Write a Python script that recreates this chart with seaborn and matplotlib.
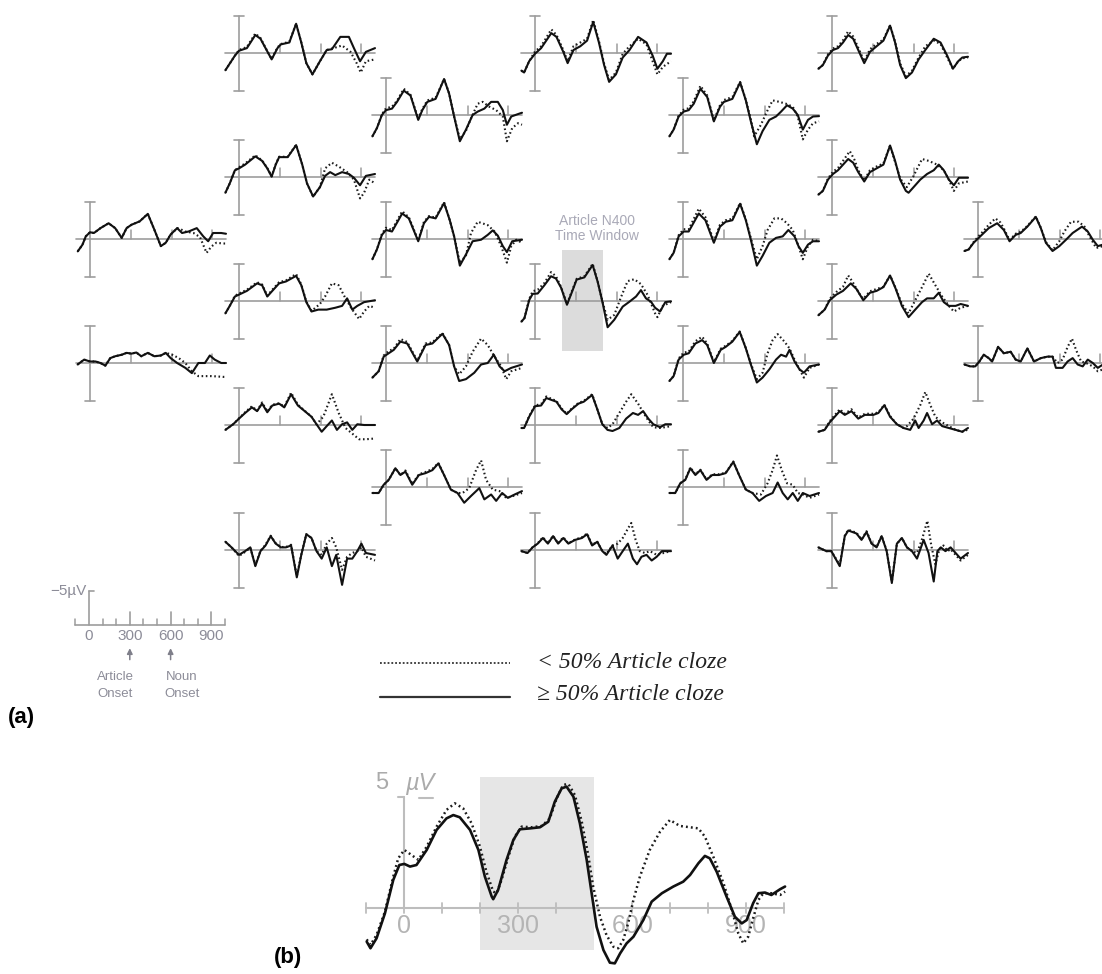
import matplotlib
matplotlib.use("Agg")
import matplotlib.pyplot as plt
import seaborn as sns
import pandas as pd

# ---------------------------------------------------------------------------
# ERP waveforms: lists of (time in ms, amplitude in µV) vertices.
# HIGH = >= 50% article cloze (solid), LOW = < 50% article cloze (dotted)
# ---------------------------------------------------------------------------
C1R1_HIGH = [(-90, 1.65), (-55, 0.75), (-31, -0.35), (0, -0.9), (29, -0.8), (77, -1.45), (137, -2.1), (185, -1.45),
             (233, -0.15), (269, -1.45), (305, -1.9), (365, -2.35), (425, -3.35), (473, -1.25), (521, 0.95), (557, 0.5),
             (593, -0.6), (641, -1.45), (677, -0.8), (725, -1.0), (785, -1.45), (833, -0.35), (869, 0.3), (905, -0.8),
             (965, -0.8), (1000, -0.7)]
C1R1_LOW = [(-90, 1.65), (-55, 0.75), (-31, -0.35), (0, -0.9), (29, -0.8), (77, -1.45), (137, -2.1), (185, -1.45),
            (233, -0.15), (269, -1.45), (305, -1.9), (365, -2.35), (425, -3.35), (473, -1.25), (521, 0.95), (557, 0.5),
            (593, -0.6), (641, -1.45), (660, -1.35), (701, -1.0), (761, -0.8), (809, -0.25), (857, 1.85), (893, 1.0),
            (929, 0.5), (977, 0.6), (1000, 0.6)]

C1R2_HIGH = [(-91, 0.2), (-43, -0.45), (0, -0.2), (41, -0.2), (77, 0.0), (113, 0.35), (149, -0.65), (185, -0.9),
             (233, -1.1), (269, -1.35), (305, -1.25), (341, -1.4), (377, -0.9), (425, -1.35), (473, -0.9), (521, -1.0),
             (557, -1.35), (593, -0.65), (641, 0.0), (701, 0.65), (749, 1.35), (797, 0.0), (845, 0.0), (881, -1.0),
             (917, -0.45), (965, 0.0), (1000, 0.0)]
C1R2_LOW = [(-91, 0.2), (-43, -0.45), (0, -0.2), (41, -0.2), (77, 0.0), (113, 0.35), (149, -0.65), (185, -0.9),
            (233, -1.1), (269, -1.35), (305, -1.25), (341, -1.4), (377, -0.9), (425, -1.35), (473, -0.9), (521, -1.0),
            (557, -1.35), (605, -1.1), (653, -0.65), (701, 0.0), (749, 1.1), (797, 1.75), (845, 1.75), (893, 1.75),
            (941, 1.8), (977, 1.85), (1000, 1.85)]

C2R1_HIGH = [(-100, 2.3), (-30, 0.35), (0, -0.3), (58, -0.65), (120, -2.4), (158, -1.9), (195, -0.65), (240, 0.85),
             (283, -0.65), (308, -1.15), (370, -1.4), (420, -3.9), (458, -1.4), (495, 1.35), (540, 2.85), (595, 1.1),
             (645, -0.4), (683, -0.5), (745, -2.15), (808, -2.15), (845, -0.65), (890, 1.1), (933, -0.15),
             (1000, -0.65)]
C2R1_LOW = [(-100, 2.3), (-30, 0.35), (0, -0.4), (58, -0.8), (120, -2.6), (158, -2.0), (195, -0.7), (240, 0.8),
            (283, -0.75), (308, -1.2), (370, -1.5), (420, -3.9), (458, -1.4), (495, 1.35), (540, 2.85), (595, 1.1),
            (645, -0.4), (695, -0.65), (758, -1.0), (820, -0.15), (865, 1.35), (895, 2.6), (933, 1.1), (1000, 0.85)]

C2R2_HIGH = [(-100, 2.1), (-68, 0.85), (-30, -0.9), (0, -1.15), (45, -1.65), (120, -2.75), (170, -2.15), (208, -1.15),
             (240, -0.05), (270, -1.65), (295, -2.65), (358, -2.65), (420, -4.25), (465, -1.65), (500, 0.85),
             (545, 2.6), (595, 1.35), (633, -0.15), (670, -0.65), (708, -0.25), (758, -0.65), (808, -0.4), (845, 0.1),
             (890, 1.1), (933, -0.15), (1000, -0.4)]
C2R2_LOW = [(-100, 2.1), (-68, 0.85), (-30, -0.9), (0, -1.3), (45, -1.8), (120, -2.9), (170, -2.2), (208, -1.2),
            (240, -0.1), (270, -1.7), (295, -2.7), (358, -2.7), (420, -4.3), (465, -1.65), (500, 0.85), (545, 2.6),
            (595, 1.35), (633, -1.15), (683, -1.9), (733, -1.4), (795, -0.65), (845, 0.35), (890, 2.85), (920, 2.1),
            (958, 0.35), (1000, 0.85)]

C2R3_HIGH = [(-100, 1.65), (-68, 0.65), (-30, -0.6), (0, -0.85), (58, -1.35), (133, -2.35), (170, -2.1), (208, -0.6),
             (245, -1.35), (295, -2.35), (345, -2.6), (420, -3.35), (458, -2.1), (495, 0.15), (533, 1.4), (583, 1.15),
             (645, 1.15), (708, 0.9), (758, 0.65), (795, -0.35), (833, 1.15), (870, 0.65), (920, 0.15), (1000, -0.1)]
C2R3_LOW = [(-100, 1.65), (-68, 0.65), (-30, -0.7), (0, -1.0), (58, -1.5), (133, -2.5), (170, -2.2), (208, -0.7),
            (245, -1.5), (295, -2.5), (345, -2.75), (420, -3.6), (458, -2.2), (495, 0.1), (533, 1.3), (545, 1.15),
            (595, 0.4), (633, -0.6), (683, -2.35), (733, -2.1), (783, -0.35), (833, 1.15), (883, 2.4), (920, 1.4),
            (958, 0.65), (1000, 0.9)]

C2R4_HIGH = [(-100, 0.65), (-43, -0.1), (0, -0.85), (45, -1.6), (95, -2.35), (133, -1.85), (170, -2.85), (208, -1.7),
             (245, -2.6), (295, -2.85), (333, -2.35), (383, -4.1), (433, -2.6), (483, -1.85), (533, -1.1), (570, -0.1),
             (608, 0.9), (645, 0.15), (683, -0.6), (720, 0.65), (758, -0.1), (795, -0.35), (833, 0.65), (870, -0.1),
             (920, 0.0), (1000, 0.0)]
C2R4_LOW = [(-100, 0.65), (-43, -0.1), (0, -0.9), (45, -1.7), (95, -2.5), (133, -1.9), (170, -3.0), (208, -1.8),
            (245, -2.7), (295, -2.9), (333, -2.45), (383, -4.3), (433, -2.7), (483, -1.9), (533, -1.1), (570, -0.1),
            (620, -1.1), (683, -4.1), (733, -1.6), (783, 0.4), (833, 1.15), (883, 1.9), (933, 1.9), (1000, 1.8)]

C2R5_HIGH = [(-100, -1.1), (-55, -0.35), (0, 0.65), (45, 0.15), (83, -0.35), (120, 2.15), (158, 0.15), (195, -0.6),
             (233, -1.85), (270, -0.85), (308, -0.35), (345, -0.35), (383, -0.6), (425, 3.65), (458, 0.65),
             (495, -2.1), (533, -1.6), (570, 0.15), (608, 1.15), (645, -0.35), (683, 2.15), (715, 0.65), (758, 4.65),
             (795, 1.15), (833, 1.15), (870, 0.15), (900, -0.85), (933, 0.4), (1000, 0.65)]
C2R5_LOW = [(-100, -1.1), (-55, -0.35), (0, 0.8), (45, 0.25), (83, -0.3), (120, 2.0), (158, 0.1), (195, -0.7),
            (233, -1.9), (270, -0.9), (308, -0.4), (345, -0.4), (383, -0.7), (425, 3.5), (458, 0.6), (495, -2.1),
            (533, -1.6), (570, 0.15), (608, 0.65), (645, -0.85), (683, -1.6), (715, -0.35), (758, 2.65), (795, 0.9),
            (833, 0.4), (870, 0.15), (900, -0.35), (933, 0.9), (1000, 1.4)]

C3R1_HIGH = [(-100, 2.85), (-67, 1.75), (-30, 0.0), (0, -0.65), (44, -0.85), (81, -1.75), (131, -3.25), (180, -2.6),
             (237, 0.65), (267, -0.65), (304, -1.75), (365, -2.15), (427, -4.8), (464, -2.85), (501, 0.2), (543, 3.5),
             (588, 1.95), (637, 0.0), (674, -0.45), (723, -0.85), (773, -1.75), (822, -1.75), (859, -0.65),
             (889, 1.3), (921, 0.2), (983, -0.2), (1000, -0.3)]
C3R1_LOW = [(-100, 2.85), (-67, 1.75), (-30, -0.1), (0, -0.9), (44, -1.1), (81, -1.9), (131, -3.5), (180, -2.7),
            (237, 0.5), (267, -0.8), (304, -1.95), (365, -2.3), (427, -4.8), (464, -2.9), (501, 0.2), (543, 3.2),
            (588, 2.1), (625, 0.45), (674, -1.5), (711, -1.75), (760, -1.1), (810, -0.65), (859, 0.2), (889, 3.5),
            (928, 1.75), (970, 1.1), (1000, 1.3)]

C3R2_HIGH = [(-100, 2.7), (-67, 1.4), (-30, -0.55), (0, -1.2), (44, -1.0), (119, -3.4), (168, -2.75), (237, 0.3),
             (279, -2.1), (316, -2.95), (365, -2.75), (427, -4.8), (469, -2.5), (501, -0.35), (543, 3.55),
             (588, 2.05), (637, 0.3), (699, 0.1), (748, -0.55), (785, -1.15), (822, -0.45), (859, 0.95), (889, 1.75),
             (928, 0.3), (1000, 0.1)]
C3R2_LOW = [(-100, 2.7), (-67, 1.4), (-30, -0.7), (0, -1.5), (44, -1.2), (119, -3.7), (168, -2.9), (237, 0.2),
            (279, -2.3), (316, -3.05), (365, -2.85), (427, -4.9), (469, -2.5), (501, -0.35), (543, 3.2), (588, 2.2),
            (625, -0.8), (674, -2.3), (748, -1.85), (798, -1.0), (847, 0.95), (889, 3.15), (921, 0.95), (958, 0.1),
            (1000, 0.5)]

C3R3_HIGH = [(-100, 1.95), (-54, 1.1), (-17, -0.85), (20, -1.3), (57, -1.75), (106, -2.85), (156, -2.6), (230, -0.2),
             (291, -2.4), (341, -2.6), (415, -3.9), (464, -2.4), (501, 0.45), (538, 2.4), (588, 2.15), (649, 1.3),
             (699, 0.2), (748, 0.0), (793, -1.1), (835, 0.45), (872, 1.1), (921, 0.65), (1000, 0.2)]
C3R3_LOW = [(-100, 1.95), (-54, 1.1), (-17, -1.0), (20, -1.6), (57, -1.9), (106, -3.2), (156, -2.8), (230, -0.3),
            (291, -2.6), (341, -2.75), (415, -4.0), (464, -2.4), (501, 0.45), (538, 1.5), (588, 0.45), (637, -1.5),
            (699, -3.25), (748, -2.4), (798, -0.85), (847, 0.45), (884, 2.15), (921, 1.1), (1000, 0.65)]

C3R4_HIGH = [(-100, 0.8), (-54, 0.8), (-17, -0.3), (20, -0.95), (69, -2.5), (106, -1.6), (143, -2.05), (193, -0.3),
             (242, -1.6), (291, -1.85), (341, -2.25), (385, -3.15), (427, -1.6), (477, 0.35), (526, 0.8), (575, 2.1),
             (625, 1.2), (686, 0.15), (723, 1.65), (773, 1.0), (810, 1.85), (854, 0.8), (896, 1.45), (946, 1.0),
             (1000, 0.55)]
C3R4_LOW = [(-100, 0.8), (-54, 0.8), (-17, -0.3), (20, -0.95), (69, -2.5), (106, -1.6), (143, -2.2), (193, -0.4),
            (242, -1.7), (291, -2.0), (341, -2.4), (385, -3.2), (427, -1.6), (477, 0.35), (526, 0.8), (563, 0.8),
            (612, 0.15), (662, -2.25), (699, -3.55), (736, -0.95), (785, 0.35), (835, 0.55), (884, 1.45),
            (933, 1.2), (1000, 0.8)]

C4R1_HIGH = [(-100, 2.35), (-80, 2.6), (-43, 1.1), (0, 0.1), (45, -0.65), (120, -2.65), (158, -2.15), (208, -0.15),
             (240, 1.35), (283, -0.4), (333, -0.9), (383, -1.65), (428, -4.15), (470, -1.4), (508, 1.6), (545, 3.85),
             (595, 2.85), (645, 0.6), (695, -0.4), (758, -2.15), (820, -1.4), (865, 0.35), (900, 2.1), (940, 1.1),
             (970, 0.1), (1000, 0.1)]
C4R1_LOW = [(-100, 2.35), (-80, 2.6), (-43, 1.1), (0, -0.2), (45, -0.9), (120, -3.15), (158, -2.4), (208, -0.4),
            (240, 1.1), (283, -0.9), (333, -1.4), (383, -1.9), (428, -4.4), (470, -1.6), (508, 1.4), (545, 3.6),
            (595, 2.6), (645, 0.1), (695, -0.9), (758, -1.9), (820, -1.15), (865, 1.1), (900, 2.85), (940, 1.85),
            (1000, 1.1)]

C4R2_HIGH = [(-100, 2.75), (-78, 2.3), (-42, -0.15), (-17, -0.95), (20, -1.0), (69, -2.1), (118, -3.3), (154, -3.0),
             (191, -1.8), (235, 0.5), (277, -1.45), (306, -2.85), (363, -3.15), (424, -4.8), (461, -2.55), (498, 0.3),
             (534, 3.5), (583, 2.5), (645, 0.75), (694, 0.1), (743, -0.6), (779, -1.45), (816, -0.35), (853, 0.1),
             (883, 0.9), (920, 1.4), (958, 0.15), (1000, 0.05)]
C4R2_LOW = [(-100, 2.75), (-78, 2.3), (-42, -0.3), (-17, -1.3), (20, -1.5), (69, -2.4), (118, -3.85), (154, -3.3),
            (191, -1.9), (235, 0.4), (277, -1.6), (306, -2.95), (363, -3.3), (424, -4.95), (461, -2.6), (498, 0.2),
            (534, 2.5), (583, 1.85), (632, -0.5), (681, -2.65), (730, -2.9), (779, -2.25), (828, -0.8), (883, 1.65),
            (900, 2.15), (940, 0.65), (1000, 0.15)]

C4R3_HIGH = [(-100, 0.4), (-80, 0.4), (-43, -1.1), (0, -2.5), (45, -2.6), (83, -3.6), (120, -3.35), (158, -3.1),
             (195, -2.1), (233, -1.45), (270, -2.1), (320, -2.85), (358, -3.1), (420, -4.0), (458, -2.1), (495, -0.1),
             (533, 0.65), (570, 0.8), (620, 0.4), (670, -0.85), (720, -1.6), (758, -1.35), (795, -1.85), (833, -0.85),
             (870, -0.1), (920, 0.3), (958, -0.1), (1000, -0.1)]
C4R3_LOW = [(-100, 0.4), (-80, 0.4), (-43, -1.2), (0, -2.6), (45, -2.8), (83, -3.8), (120, -3.5), (158, -3.2),
            (195, -2.2), (233, -1.5), (270, -2.2), (320, -2.95), (358, -3.2), (420, -4.1), (458, -2.1), (495, -0.1),
            (533, 0.4), (570, -0.1), (620, -1.6), (670, -3.1), (708, -4.1), (758, -2.85), (795, -1.7), (833, -0.6),
            (870, 0.3), (920, 0.4), (1000, 0.15)]

C4R4_HIGH = [(-100, 0.15), (-55, 0.4), (-18, -0.35), (20, -0.85), (58, -1.6), (95, -0.85), (133, -1.85), (170, -0.85),
             (208, -1.6), (245, -0.85), (295, -1.35), (345, -1.6), (383, -2.1), (420, -0.6), (458, -1.1), (495, 0.15),
             (525, 0.65), (570, -0.6), (608, 1.15), (645, 0.15), (683, -0.85), (720, 1.15), (750, 1.9), (783, 0.9),
             (820, 0.65), (858, 1.4), (895, 0.9), (933, 0.15), (1000, 0.15)]
C4R4_LOW = [(-100, 0.15), (-55, 0.4), (-18, -0.35), (20, -0.9), (58, -1.7), (95, -0.9), (133, -1.9), (170, -0.9),
            (208, -1.7), (245, -0.9), (295, -1.4), (345, -1.7), (383, -2.2), (420, -0.7), (458, -1.1), (495, 0.15),
            (525, 0.5), (570, -0.6), (608, -0.85), (645, -1.6), (683, -2.85), (708, -3.6), (740, -1.35), (770, 0.15),
            (808, 0.4), (845, 0.15), (895, 0.65), (945, 0.4), (1000, 0.15)]

C5R1_HIGH = [(-100, 2.85), (-69, 1.95), (-32, 0.2), (5, -0.45), (42, -0.65), (79, -1.5), (128, -3.5), (178, -2.4),
             (227, 0.85), (272, -1.1), (301, -1.75), (363, -2.15), (420, -4.35), (462, -1.95), (499, 0.85), (543, 3.9),
             (585, 2.15), (635, 0.65), (684, 0.2), (721, -0.45), (765, -1.3), (807, -0.85), (844, 0.0), (881, 1.95),
             (919, 0.65), (956, 0.2), (1000, 0.15)]
C5R1_LOW = [(-100, 2.85), (-69, 1.95), (-32, 0.1), (5, -0.7), (42, -0.9), (79, -1.8), (128, -3.9), (178, -2.6),
            (227, 0.75), (272, -1.3), (301, -2.0), (363, -2.4), (420, -4.4), (462, -2.0), (499, 0.6), (523, 2.85),
            (573, 1.3), (617, -0.45), (659, -1.95), (709, -1.75), (758, -1.5), (807, -1.1), (844, 0.2), (881, 3.25),
            (919, 1.95), (956, 1.1), (1000, 0.85)]

C5R2_HIGH = [(-100, 2.7), (-69, 1.85), (-32, -0.35), (5, -1.0), (42, -1.0), (116, -3.4), (165, -2.5), (227, 0.5),
             (272, -1.65), (314, -2.3), (363, -2.5), (420, -4.7), (462, -2.5), (499, 0.1), (543, 3.55), (585, 2.25),
             (635, 0.5), (684, -0.15), (733, -0.35), (775, -1.2), (820, -0.35), (849, 0.95), (881, 1.85), (919, 0.75),
             (956, 0.3), (1000, 0.3)]
C5R2_LOW = [(-100, 2.7), (-69, 1.85), (-32, -0.5), (5, -1.3), (42, -1.3), (116, -4.05), (165, -2.9), (227, 0.3),
            (272, -1.9), (314, -2.5), (363, -2.7), (420, -4.8), (462, -2.6), (499, -0.1), (543, 2.7), (585, 0.95),
            (622, -1.2), (672, -2.75), (721, -2.75), (765, -2.1), (807, -1.2), (849, 0.95), (881, 2.7), (919, 0.95),
            (956, 0.1), (1000, 0.3)]

C5R3_HIGH = [(-100, 2.4), (-69, 1.75), (-32, -0.45), (5, -1.1), (42, -1.3), (91, -2.6), (141, -3.05), (178, -2.4),
             (227, 0.0), (277, -1.75), (314, -2.15), (363, -2.85), (417, -4.15), (462, -1.95), (499, 0.2), (543, 2.6),
             (585, 1.95), (635, 0.85), (684, -0.45), (721, -1.1), (758, -0.85), (783, -1.75), (820, -0.2), (857, 0.85),
             (889, 1.3), (931, 0.45), (1000, 0.2)]
C5R3_LOW = [(-100, 2.4), (-69, 1.75), (-32, -0.6), (5, -1.4), (42, -1.5), (91, -2.9), (141, -3.5), (178, -2.6),
            (227, -0.1), (277, -1.9), (314, -2.3), (363, -2.95), (417, -4.2), (462, -2.0), (499, 0.1), (543, 2.15),
            (585, 1.3), (622, -1.3), (659, -3.05), (696, -3.85), (746, -2.85), (783, -1.95), (820, -0.45), (857, 0.85),
            (889, 1.95), (931, 0.65), (1000, 0.2)]

C5R4_HIGH = [(-100, 0.8), (-57, 0.8), (-20, -0.5), (17, -0.95), (54, -2.5), (91, -1.6), (128, -2.25), (173, -0.95),
             (215, -1.6), (264, -1.6), (314, -1.85), (370, -3.35), (412, -1.6), (462, 0.35), (511, 0.8), (560, 1.85),
             (610, 1.2), (659, 0.8), (696, -0.6), (733, 0.8), (770, 1.65), (807, 0.8), (844, 1.85), (881, 0.8),
             (931, 1.2), (1000, 0.8)]
C5R4_LOW = [(-100, 0.8), (-57, 0.8), (-20, -0.5), (17, -1.0), (54, -2.6), (91, -1.7), (128, -2.3), (173, -1.0),
            (215, -1.7), (264, -1.7), (314, -1.9), (370, -3.4), (412, -1.6), (462, 0.35), (511, 0.8), (573, 1.0),
            (622, -0.5), (659, -2.25), (691, -4.2), (726, -2.25), (765, -0.5), (807, -0.3), (844, 0.8), (881, 1.0),
            (931, 1.45), (1000, 1.0)]

C6R1_HIGH = [(-100, 2.1), (-67, 1.6), (-30, 0.35), (7, -0.4), (44, -0.65), (81, -1.4), (119, -2.4), (156, -1.9),
             (193, -0.4), (237, 1.35), (279, -0.15), (328, -0.9), (378, -1.65), (427, -3.65), (464, -1.4), (501, 1.6),
             (543, 3.35), (588, 2.6), (637, 0.85), (686, -0.4), (748, -1.9), (798, -1.4), (847, 0.35), (889, 2.1),
             (928, 1.1), (958, 0.6), (1000, 0.5)]
C6R1_LOW = [(-100, 2.1), (-67, 1.6), (-30, 0.2), (7, -0.6), (44, -0.9), (81, -1.7), (119, -2.9), (156, -2.2),
            (193, -0.7), (237, 1.1), (279, -0.5), (328, -1.2), (378, -1.8), (427, -3.7), (464, -1.5), (501, 1.4),
            (543, 3.1), (588, 2.35), (637, 0.6), (686, -0.9), (748, -1.65), (798, -1.2), (847, 0.6), (889, 2.1),
            (928, 1.1), (958, 0.7), (1000, 0.6)]

C6R2_HIGH = [(-100, 2.35), (-67, 1.85), (-30, 0.35), (7, -0.4), (44, -0.9), (119, -2.4), (156, -1.9), (193, -0.65),
             (237, 0.6), (279, -0.65), (328, -1.15), (378, -1.65), (427, -4.2), (464, -2.15), (501, 0.35), (543, 1.85),
             (563, 2.1), (600, 1.35), (649, 0.35), (699, -0.4), (748, -0.9), (785, -1.65), (822, -0.9), (859, 0.35),
             (896, 1.1), (933, 0.1), (1000, 0.1)]
C6R2_LOW = [(-100, 2.35), (-67, 1.85), (-30, 0.2), (7, -0.7), (44, -1.2), (131, -3.45), (165, -2.3), (193, -0.9),
            (237, 0.45), (279, -0.9), (328, -1.4), (378, -1.8), (427, -4.2), (464, -2.0), (501, 0.2), (550, 1.35),
            (600, -0.15), (662, -2.4), (711, -2.15), (773, -1.65), (822, -0.9), (859, 0.35), (896, 1.85), (933, 0.85),
            (1000, 0.6)]

C6R3_HIGH = [(-100, 1.9), (-54, 1.15), (-17, -0.1), (32, -0.85), (81, -1.35), (138, -2.35), (180, -1.6), (230, -0.1),
             (279, -1.1), (328, -1.35), (378, -1.85), (427, -3.4), (469, -1.6), (514, 0.65), (563, 2.15), (612, 1.15),
             (662, 0.15), (699, -0.35), (748, -0.35), (785, -1.1), (822, 0.15), (859, 0.65), (909, 0.65), (946, 0.4),
             (1000, 0.65)]
C6R3_LOW = [(-100, 1.9), (-54, 1.15), (-17, -0.3), (32, -1.2), (81, -1.9), (119, -3.4), (150, -2.6), (200, -1.0),
            (230, -0.3), (279, -1.3), (328, -1.6), (378, -1.9), (427, -3.4), (469, -1.7), (514, 0.4), (563, 1.65),
            (612, -0.1), (662, -1.85), (711, -3.65), (760, -2.1), (810, -0.6), (859, 0.65), (896, 1.4), (946, 0.9),
            (1000, 0.65)]

C6R4_HIGH = [(-100, 0.9), (-54, 0.65), (-17, -0.35), (20, -1.1), (57, -1.85), (94, -1.35), (143, -1.85), (193, -0.85),
             (242, -1.35), (304, -1.35), (341, -1.6), (385, -2.65), (427, -1.1), (477, -0.1), (526, 0.4), (575, 0.65),
             (612, -0.6), (637, 0.4), (674, -0.6), (699, -1.6), (736, -0.1), (773, -0.6), (810, 0.15), (859, 0.4),
             (909, 0.65), (958, 0.9), (1000, 0.4)]
C6R4_LOW = [(-100, 0.9), (-54, 0.65), (-17, -0.5), (20, -1.3), (57, -2.1), (94, -1.5), (143, -2.1), (193, -1.0),
            (242, -1.5), (304, -1.5), (341, -1.7), (385, -2.7), (427, -1.2), (477, -0.1), (526, 0.4), (551, 0.15),
            (600, -0.85), (649, -2.65), (686, -4.4), (723, -2.65), (760, -1.1), (810, -0.35), (859, 0.15),
            (909, 0.65), (958, 0.9), (1000, 0.6)]

C6R5_HIGH = [(-100, -0.35), (-42, 0.15), (-5, 0.15), (57, 2.15), (94, -1.85), (120, -2.6), (150, -2.4), (180, -2.2),
             (217, -1.35), (254, -2.4), (291, -0.85), (328, -0.35), (365, -1.85), (402, 0.15), (440, 4.4),
             (477, -0.85), (514, -1.6), (551, -0.35), (588, 0.15), (625, 1.15), (674, -1.35), (710, 0.4), (748, 4.2),
             (775, 0.15), (800, -0.35), (834, 0.15), (872, -0.35), (909, 0.4), (946, 1.15), (1000, 0.4)]
C6R5_LOW = [(-100, -0.35), (-42, 0.15), (-5, 0.15), (57, 2.0), (94, -1.9), (120, -2.7), (150, -2.5), (180, -2.3),
            (217, -1.4), (254, -2.5), (291, -0.9), (328, -0.4), (365, -1.9), (402, 0.1), (440, 4.2), (477, -0.8),
            (514, -1.6), (551, -0.35), (588, 0.15), (625, 0.4), (665, -1.6), (701, -3.9), (730, -0.6), (760, 1.9),
            (790, -0.1), (820, -0.6), (850, 0.15), (872, -0.1), (909, 0.65), (946, 1.4), (1000, 0.65)]

C7R1_HIGH = [(-100, 1.6), (-69, 1.4), (-32, 0.5), (5, -0.15), (42, -0.8), (79, -1.45), (141, -2.1), (190, -1.2),
             (232, 0.3), (277, -0.55), (314, -0.8), (363, -1.65), (425, -2.95), (462, -1.45), (499, 0.5), (548, 1.6),
             (598, 0.95), (647, 0.1), (696, -0.8), (765, -1.65), (807, -1.0), (844, 0.1), (881, 0.95), (919, 0.75),
             (1000, 0.6)]
C7R1_LOW = [(-100, 1.6), (-69, 1.4), (-32, 0.4), (5, -0.4), (42, -1.1), (79, -1.9), (128, -2.75), (165, -2.2),
            (190, -1.4), (232, 0.15), (277, -0.7), (314, -0.95), (363, -1.75), (425, -3.0), (462, -1.5), (499, 0.4),
            (548, 1.5), (598, 0.3), (635, -1.0), (684, -2.3), (741, -2.3), (783, -1.65), (820, -0.35), (869, 1.2),
            (919, 0.95), (1000, 0.8)]

C7R2_HIGH = [(-100, 0.2), (-57, 0.45), (-20, 0.45), (10, -0.2), (42, -1.1), (79, -0.65), (104, -0.2), (148, -2.15),
             (190, -1.3), (240, -1.5), (277, -0.45), (314, -0.2), (363, -1.95), (412, -0.2), (462, -0.65),
             (511, -0.85), (548, -0.85), (573, 0.65), (622, 0.65), (659, -0.2), (696, -0.65), (733, 0.2), (770, 0.45),
             (807, -0.45), (844, 0.0), (881, 0.65), (919, 0.2), (1000, 0.2)]
C7R2_LOW = [(-100, 0.2), (-57, 0.45), (-20, 0.45), (10, -0.2), (42, -1.1), (79, -0.65), (104, -0.2), (148, -2.15),
            (190, -1.3), (240, -1.5), (277, -0.45), (314, -0.2), (363, -1.95), (412, -0.2), (462, -0.65),
            (511, -0.85), (548, -0.85), (585, 0.0), (622, -0.45), (659, -2.15), (691, -3.25), (721, -1.75),
            (758, -0.2), (795, 0.0), (844, 0.45), (881, 1.1), (919, 0.85), (1000, 0.8)]

# Enlarged waveform (b), plotted with positive up
ENLARGED_HIGH = [(-99, -1.5), (-89, -1.8), (-73, -1.35), (-51, -0.23), (-29, 1.28), (-13, 1.95), (0, 2.0), (15, 1.88),
                 (32, 1.95), (59, 2.63), (85, 3.53), (111, 4.05), (129, 4.2), (146, 4.1), (173, 3.53), (195, 2.63),
                 (212, 1.43), (230, 0.53), (234, 0.41), (247, 0.83), (269, 2.18), (287, 3.08), (304, 3.56),
                 (331, 3.6), (357, 3.65), (379, 3.9), (396, 4.8), (414, 5.4), (427, 5.48), (445, 5.03), (462, 3.83),
                 (480, 2.18), (493, 0.68), (506, -0.83), (524, -1.88), (541, -2.45), (554, -2.48), (568, -2.03),
                 (585, -1.58), (603, -1.28), (629, -0.53), (651, 0.3), (678, 0.68), (708, 0.98), (734, 1.2),
                 (752, 1.5), (774, 2.03), (791, 2.36), (804, 2.25), (822, 1.65), (848, 0.53), (870, -0.38),
                 (888, -0.68), (901, -0.53), (918, 0.23), (932, 0.68), (949, 0.71), (966, 0.6), (989, 0.86),
                 (1002, 0.98)]
ENLARGED_LOW = [(-99, -1.4), (-89, -1.65), (-73, -1.2), (-51, -0.15), (-29, 1.43), (-16, 2.25), (0, 2.63), (19, 2.4),
                (37, 2.18), (59, 2.78), (85, 3.68), (111, 4.43), (133, 4.73), (155, 4.5), (177, 3.83), (199, 2.78),
                (216, 1.65), (234, 0.75), (243, 0.68), (256, 1.28), (274, 2.33), (291, 3.23), (309, 3.68),
                (335, 3.65), (362, 3.71), (383, 4.05), (401, 4.95), (418, 5.56), (432, 5.6), (449, 5.1), (467, 3.9),
                (484, 2.4), (497, 0.98), (515, -0.38), (532, -1.2), (550, -1.73), (563, -1.8), (576, -1.43),
                (589, -0.68), (603, 0.38), (620, 1.43), (646, 2.63), (673, 3.45), (699, 3.98), (725, 3.71),
                (752, 3.65), (774, 3.6), (791, 3.23), (813, 2.33), (840, 1.13), (862, -0.08), (879, -1.13),
                (892, -1.58), (905, -1.28), (918, -0.45), (932, 0.38), (945, 0.68), (966, 0.68), (989, 0.6),
                (1002, 0.75)]

GRID_TICKS_MS = [300, 600, 900]
CAL_MAJOR_MS = [0, 300, 600, 900]
CAL_MINOR_MS = [-100, 100, 200, 400, 500, 700, 800, 1000]
ENLARGED_TICKS_MS = [-100, 0, 100, 200, 300, 400, 500, 600, 700, 800, 900, 1000]
ENLARGED_LABELS_MS = [0, 300, 600, 900]
N400_WINDOW = (200, 500)

LEGEND_LOW = "< 50% Article cloze"
LEGEND_HIGH = "\u2265 50% Article cloze"

# ---------------------------------------------------------------------------
# layout (pixels of a 1102 x 974 canvas): bar x position, baseline y position
# ---------------------------------------------------------------------------
PANELS = [
    (90, 239, C1R1_HIGH, C1R1_LOW), (90, 363, C1R2_HIGH, C1R2_LOW),
    (239, 53, C2R1_HIGH, C2R1_LOW), (239, 177, C2R2_HIGH, C2R2_LOW), (239, 301, C2R3_HIGH, C2R3_LOW),
    (239, 425, C2R4_HIGH, C2R4_LOW), (239, 550, C2R5_HIGH, C2R5_LOW),
    (386, 115, C3R1_HIGH, C3R1_LOW), (386, 239, C3R2_HIGH, C3R2_LOW), (386, 363, C3R3_HIGH, C3R3_LOW),
    (386, 487, C3R4_HIGH, C3R4_LOW),
    (535, 53, C4R1_HIGH, C4R1_LOW), (535, 301, C4R2_HIGH, C4R2_LOW), (535, 425, C4R3_HIGH, C4R3_LOW),
    (535, 550, C4R4_HIGH, C4R4_LOW),
    (683, 115, C5R1_HIGH, C5R1_LOW), (683, 239, C5R2_HIGH, C5R2_LOW), (683, 363, C5R3_HIGH, C5R3_LOW),
    (683, 487, C5R4_HIGH, C5R4_LOW),
    (832, 53, C6R1_HIGH, C6R1_LOW), (832, 177, C6R2_HIGH, C6R2_LOW), (832, 301, C6R3_HIGH, C6R3_LOW),
    (832, 425, C6R4_HIGH, C6R4_LOW), (832, 550, C6R5_HIGH, C6R5_LOW),
    (978, 239, C7R1_HIGH, C7R1_LOW), (978, 363, C7R2_HIGH, C7R2_LOW),
]
WINDOW_PANEL = (535, 301)

W, H = 1102, 974
PX_MS = 0.136      # pixels per ms in the small panels
PX_UV = 7.5        # pixels per µV in the small panels
T_LO, T_HI = -112, 1012
SPAN = 7.4         # µV shown above/below the baseline

AX_GRAY = "#9d9d9d"
TXT_GRAY = "#8c8c98"
LIGHT_TXT = "#a9a9b7"
INK = "#111111"
DOT = (0, (0.75, 1.25))

sns.set_theme(style="white")
plt.rcParams["font.family"] = ["Liberation Sans", "DejaVu Sans"]

fig = plt.figure(figsize=(W / 100, H / 100), dpi=100)
fig.patch.set_facecolor("white")


def add_axes_px(left, top, width, height):
    return fig.add_axes([left / W, (H - top - height) / H, width / W, height / H])


def wave(ax, pts, dotted=False, lw=1.5):
    df = pd.DataFrame(pts, columns=["ms", "uv"])
    kw = dict(color=INK, linewidth=lw)
    if dotted:
        kw.update(color="#1c1c1c", linestyle=DOT, linewidth=lw * 1.05)
    sns.lineplot(data=df, x="ms", y="uv", ax=ax, estimator=None, sort=False, legend=False, **kw)


def small_panel(x0, base, high, low, window=False):
    left = x0 + T_LO * PX_MS
    half = SPAN * PX_UV
    ax = add_axes_px(left, base - half, (T_HI - T_LO) * PX_MS, 2 * half)
    if window:
        ax.fill_between(list(N400_WINDOW), 6.7, -6.8, color="#dcdcdc", lw=0, zorder=0)
    # baseline, calibration bar with caps, time ticks
    ax.plot([-100, 1000], [0, 0], color=AX_GRAY, lw=1.2, zorder=1)
    ax.plot([0, 0], [-5, 5], color=AX_GRAY, lw=1.2, zorder=1)
    for y in (-5, 5):
        ax.plot([-38, 38], [y, y], color=AX_GRAY, lw=1.2, zorder=1)
    for t in GRID_TICKS_MS:
        ax.plot([t, t], [0, -1.15], color=AX_GRAY, lw=1.1, zorder=1)
    wave(ax, low, dotted=True, lw=1.45)
    wave(ax, high, lw=1.5)
    ax.set_xlim(T_LO, T_HI)
    ax.set_ylim(SPAN, -SPAN)   # negative up
    ax.axis("off")
    return ax


for x0, base, hi, lo in PANELS:
    small_panel(x0, base, hi, lo, window=(x0, base) == WINDOW_PANEL)

# overlay in pixel units for free-standing labels
over = fig.add_axes([0, 0, 1, 1])
over.set_xlim(0, W)
over.set_ylim(H, 0)
over.axis("off")

over.text(597, 221, "Article N400", ha="center", va="center", fontsize=10, color=LIGHT_TXT)
over.text(597, 236, "Time Window", ha="center", va="center", fontsize=10, color=LIGHT_TXT)

# calibration scale (bottom left)
CAL_X0, CAL_BASE, CAL_PX_UV = 89, 625, 6.8
cal = add_axes_px(CAL_X0 + T_LO * PX_MS, CAL_BASE - 8 * CAL_PX_UV, (T_HI - T_LO) * PX_MS, 16 * CAL_PX_UV)
cal.plot([-100, 1000], [0, 0], color=AX_GRAY, lw=1.2)
cal.plot([0, 0], [0, -5], color=AX_GRAY, lw=1.2)
cal.plot([0, 40], [-5, -5], color=AX_GRAY, lw=1.2)
for t in CAL_MAJOR_MS[1:]:
    cal.plot([t, t], [0, -1.9], color=AX_GRAY, lw=1.2)
for t in CAL_MINOR_MS:
    cal.plot([t, t], [0, -0.9], color=AX_GRAY, lw=1.1)
for t in CAL_MAJOR_MS:
    cal.text(t, 1.55, str(t), ha="center", va="center", fontsize=11, color=TXT_GRAY)
cal.text(-22, -5.0, "\u22125\u00b5V", ha="right", va="center", fontsize=11, color=TXT_GRAY)
for t in (300, 600):
    cal.annotate("", xy=(t, 3.0), xytext=(t, 5.5),
                 arrowprops=dict(arrowstyle="-|>", color="#7f7f8a", lw=1.1, mutation_scale=8))
cal.text(191, 7.7, "Article", ha="center", va="center", fontsize=9.5, color=TXT_GRAY)
cal.text(191, 10.1, "Onset", ha="center", va="center", fontsize=9.5, color=TXT_GRAY)
cal.text(684, 7.7, "Noun", ha="center", va="center", fontsize=9.5, color=TXT_GRAY)
cal.text(684, 10.1, "Onset", ha="center", va="center", fontsize=9.5, color=TXT_GRAY)
cal.set_xlim(T_LO, T_HI)
cal.set_ylim(8, -8)
cal.axis("off")

# legend
over.plot([380, 510], [663, 663], color="#333333", lw=1.3, linestyle=(0, (1, 1.1)))
over.plot([380, 510], [697, 697], color="#333333", lw=1.6)
serif = ["Liberation Serif", "DejaVu Serif"]
over.text(537, 663, LEGEND_LOW, ha="left", va="center", fontsize=17, style="italic", family=serif, color="#222222")
over.text(537, 694, LEGEND_HIGH, ha="left", va="center", fontsize=17, style="italic", family=serif, color="#222222")

over.text(21, 717, "(a)", ha="center", va="center", fontsize=16, fontweight="bold", color="black")
over.text(288, 958, "(b)", ha="center", va="center", fontsize=16, fontweight="bold", color="black")

# enlarged waveform (b)
B_X0, B_BASE, B_PX_MS, B_PX_UV = 404.3, 908.3, 0.38, 22.2
B_YLO, B_YHI = -2.9, 6.5
axb = add_axes_px(B_X0 + T_LO * B_PX_MS, B_BASE - B_YHI * B_PX_UV, (T_HI - T_LO) * B_PX_MS, (B_YHI - B_YLO) * B_PX_UV)
axb.fill_between(list(N400_WINDOW), -1.88, 5.93, color="#e6e6e6", lw=0, zorder=0)
B_GRAY = "#bdbdbd"
axb.plot([-100, 1000], [0, 0], color=B_GRAY, lw=1.5, zorder=1)
axb.plot([0, 0], [0, 5], color=B_GRAY, lw=1.5, zorder=1)
axb.plot([-16, 0], [5, 5], color=B_GRAY, lw=1.5, zorder=1)
axb.plot([39, 76], [4.97, 4.97], color=B_GRAY, lw=1.5, zorder=1)
for t in ENLARGED_TICKS_MS:
    axb.plot([t, t], [-0.23, 0.23], color=B_GRAY, lw=1.3, zorder=1)
for t in ENLARGED_LABELS_MS:
    axb.text(t, -0.78, str(t), ha="center", va="center", fontsize=18, color="#b4b4b4", zorder=1)
axb.text(-59, 5.64, "5", ha="center", va="center", fontsize=17, color="#ababab")
axb.text(41, 5.64, "\u00b5V", ha="center", va="center", fontsize=17, color="#ababab", style="italic")
wave(axb, ENLARGED_LOW, dotted=True, lw=1.7)
wave(axb, ENLARGED_HIGH, lw=1.9)
axb.set_xlim(T_LO, T_HI)
axb.set_ylim(B_YLO, B_YHI)
axb.axis("off")

fig.savefig("out.png", dpi=100, facecolor="white")
